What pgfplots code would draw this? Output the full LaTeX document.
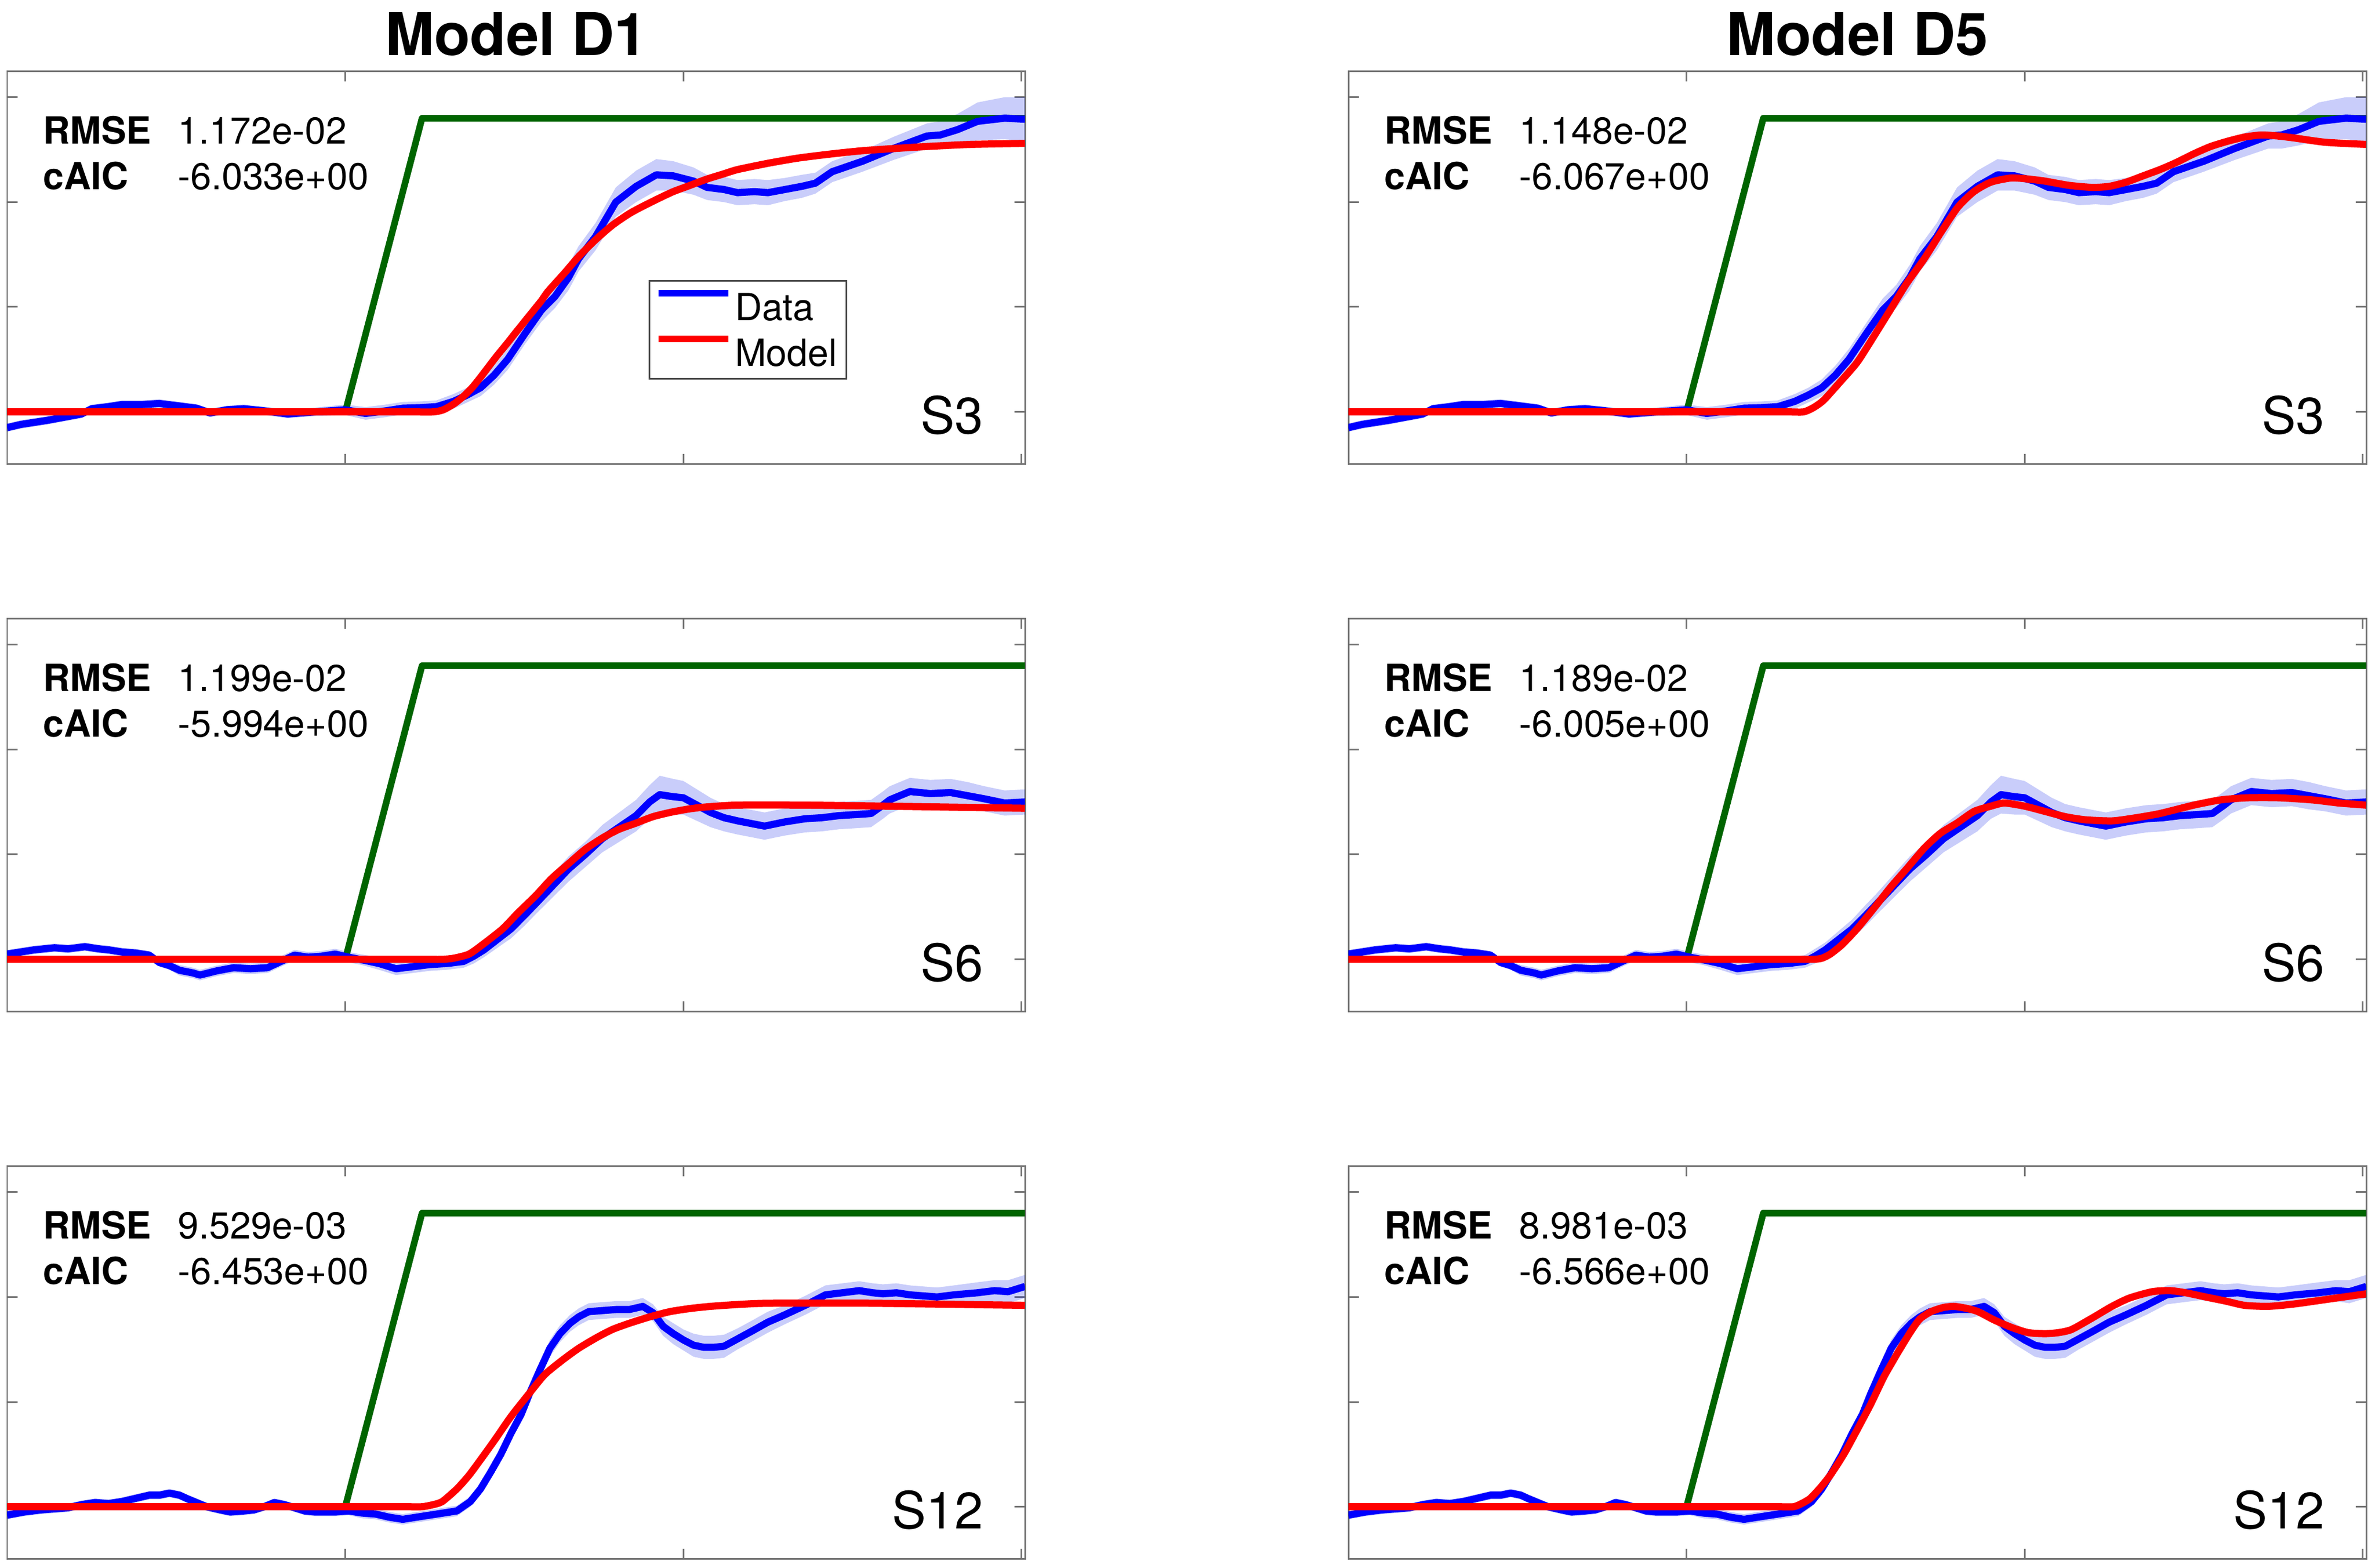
\documentclass[border=0pt]{standalone}
\usepackage{fontspec}
\setmainfont{TeX Gyre Heros}
\usepackage{pgfplots}
\pgfplotsset{compat=1.18}
\usepackage{pgfplotstable}
\usepgfplotslibrary{fillbetween}

\definecolor{stim}{RGB}{0,100,0}
\definecolor{bandc}{RGB}{0,20,230}

% ---------------- data (x, mean, half-width of band) ----------------
\pgfplotstableread{
x y h
0.00 -0.15 0.04
0.04 -0.12 0.04
0.08 -0.10 0.04
0.12 -0.08 0.04
0.17 -0.05 0.04
0.22 -0.02 0.04
0.25 0.03 0.04
0.30 0.05 0.04
0.34 0.07 0.04
0.40 0.07 0.04
0.45 0.08 0.04
0.50 0.06 0.04
0.56 0.035 0.04
0.60 -0.01 0.04
0.65 0.02 0.04
0.70 0.03 0.04
0.76 0.01 0.04
0.83 -0.02 0.04
0.91 0.00 0.04
1.00 0.02 0.05
1.06 -0.015 0.06
1.12 0.01 0.06
1.17 0.035 0.06
1.22 0.04 0.06
1.27 0.05 0.06
1.32 0.10 0.07
1.36 0.16 0.07
1.40 0.23 0.08
1.44 0.35 0.09
1.48 0.50 0.10
1.53 0.74 0.10
1.58 0.97 0.11
1.62 1.10 0.11
1.66 1.28 0.12
1.69 1.46 0.12
1.74 1.67 0.13
1.80 2.00 0.14
1.86 2.15 0.15
1.92 2.26 0.15
1.97 2.25 0.14
2.03 2.20 0.13
2.07 2.14 0.12
2.12 2.12 0.12
2.16 2.09 0.12
2.21 2.10 0.12
2.25 2.09 0.12
2.30 2.12 0.11
2.35 2.15 0.11
2.39 2.18 0.10
2.44 2.29 0.10
2.53 2.39 0.10
2.62 2.51 0.11
2.72 2.63 0.12
2.76 2.64 0.13
2.81 2.69 0.15
2.87 2.77 0.18
2.95 2.80 0.20
3.01 2.79 0.21
}\dataSthree

\pgfplotstableread{
x y h
0.00 0.05 0.04
0.04 0.07 0.04
0.08 0.09 0.04
0.14 0.11 0.04
0.18 0.10 0.04
0.23 0.12 0.04
0.27 0.10 0.04
0.30 0.09 0.04
0.34 0.07 0.04
0.38 0.06 0.04
0.42 0.04 0.04
0.45 -0.03 0.04
0.48 -0.06 0.04
0.51 -0.105 0.05
0.55 -0.13 0.05
0.57 -0.15 0.05
0.62 -0.11 0.05
0.67 -0.08 0.05
0.72 -0.09 0.05
0.77 -0.08 0.05
0.81 -0.02 0.05
0.85 0.04 0.05
0.89 0.02 0.05
0.93 0.03 0.05
0.97 0.05 0.05
1.01 0.02 0.05
1.05 -0.005 0.05
1.10 -0.04 0.06
1.15 -0.09 0.06
1.20 -0.07 0.06
1.25 -0.05 0.06
1.30 -0.04 0.06
1.35 -0.02 0.06
1.38 0.03 0.07
1.41 0.09 0.07
1.45 0.19 0.08
1.49 0.29 0.09
1.53 0.42 0.10
1.56 0.52 0.10
1.61 0.69 0.11
1.66 0.86 0.12
1.71 1.00 0.12
1.76 1.15 0.13
1.81 1.26 0.14
1.86 1.37 0.15
1.90 1.50 0.16
1.93 1.57 0.18
1.97 1.55 0.17
2.00 1.54 0.16
2.04 1.47 0.15
2.08 1.40 0.14
2.12 1.35 0.13
2.16 1.32 0.13
2.24 1.27 0.13
2.30 1.31 0.13
2.36 1.34 0.13
2.41 1.35 0.13
2.46 1.37 0.13
2.51 1.38 0.13
2.555 1.39 0.13
2.59 1.47 0.13
2.61 1.52 0.13
2.67 1.60 0.13
2.73 1.58 0.13
2.79 1.59 0.13
2.84 1.56 0.13
2.89 1.53 0.12
2.95 1.49 0.12
3.01 1.50 0.12
}\dataSsix

\pgfplotstableread{
x y h
0.00 -0.08 0.04
0.05 -0.05 0.04
0.10 -0.03 0.04
0.14 -0.02 0.04
0.18 -0.01 0.04
0.22 0.02 0.04
0.26 0.04 0.04
0.30 0.03 0.04
0.34 0.05 0.04
0.38 0.08 0.04
0.42 0.11 0.04
0.45 0.11 0.04
0.48 0.13 0.04
0.51 0.11 0.04
0.53 0.08 0.04
0.56 0.04 0.04
0.59 0.00 0.04
0.63 -0.03 0.04
0.66 -0.05 0.04
0.70 -0.04 0.04
0.73 -0.03 0.04
0.76 0.00 0.04
0.79 0.04 0.04
0.82 0.02 0.04
0.85 -0.01 0.04
0.88 -0.04 0.04
0.91 -0.05 0.04
0.97 -0.05 0.04
1.01 -0.04 0.04
1.05 -0.06 0.05
1.09 -0.07 0.05
1.13 -0.10 0.05
1.17 -0.12 0.05
1.21 -0.10 0.05
1.25 -0.08 0.05
1.29 -0.06 0.05
1.33 -0.04 0.05
1.37 0.05 0.05
1.40 0.17 0.06
1.43 0.33 0.06
1.46 0.50 0.06
1.49 0.70 0.07
1.52 0.88 0.07
1.545 1.08 0.07
1.575 1.30 0.07
1.605 1.51 0.08
1.635 1.65 0.08
1.665 1.75 0.08
1.69 1.81 0.08
1.72 1.86 0.08
1.76 1.87 0.08
1.80 1.88 0.08
1.84 1.88 0.08
1.88 1.91 0.08
1.91 1.85 0.08
1.94 1.72 0.09
1.97 1.65 0.10
2.00 1.59 0.10
2.03 1.54 0.11
2.06 1.52 0.11
2.09 1.52 0.11
2.12 1.53 0.11
2.16 1.60 0.10
2.20 1.67 0.10
2.25 1.76 0.10
2.30 1.83 0.09
2.36 1.92 0.09
2.42 2.02 0.09
2.47 2.04 0.09
2.52 2.06 0.09
2.56 2.04 0.09
2.59 2.03 0.09
2.63 2.04 0.09
2.67 2.02 0.09
2.71 2.01 0.09
2.75 2.00 0.09
2.80 2.02 0.09
2.87 2.04 0.10
2.92 2.06 0.10
2.96 2.05 0.11
3.01 2.10 0.11
}\dataStwelve

% ---------------- model fits ----------------
\pgfplotstableread{
x y
0 0
1.10 0
1.20 0
1.26 0
1.29 0.02
1.323 0.08
1.35 0.15
1.375 0.23
1.40 0.33
1.426 0.44
1.45 0.54
1.478 0.65
1.50 0.74
1.53 0.86
1.56 0.98
1.58 1.06
1.60 1.15
1.65 1.33
1.69 1.48
1.74 1.64
1.79 1.78
1.84 1.89
1.88 1.96
1.93 2.04
1.97 2.10
2.02 2.16
2.07 2.22
2.12 2.27
2.16 2.31
2.25 2.37
2.34 2.42
2.44 2.46
2.53 2.49
2.62 2.51
2.72 2.53
2.85 2.55
3.01 2.56
}\modAthree

\pgfplotstableread{
x y
0 0
1.20 0
1.30 0
1.346 0
1.375 0.04
1.405 0.11
1.45 0.27
1.504 0.47
1.55 0.70
1.604 0.98
1.65 1.22
1.703 1.46
1.75 1.70
1.802 1.95
1.85 2.10
1.90 2.19
1.96 2.23
2.01 2.22
2.06 2.20
2.13 2.16
2.20 2.14
2.25 2.15
2.30 2.19
2.35 2.25
2.40 2.31
2.45 2.38
2.50 2.46
2.55 2.53
2.60 2.58
2.65 2.62
2.70 2.64
2.75 2.63
2.80 2.61
2.89 2.57
3.01 2.55
}\modBthree

\pgfplotstableread{
x y
0 0
1.15 0
1.24 0
1.287 0
1.32 0.01
1.366 0.05
1.41 0.15
1.465 0.29
1.51 0.44
1.564 0.61
1.61 0.77
1.663 0.92
1.71 1.05
1.762 1.16
1.81 1.24
1.861 1.30
1.91 1.36
1.96 1.40
2.01 1.43
2.059 1.45
2.158 1.47
2.357 1.47
2.60 1.46
3.01 1.44
}\modAsix

\pgfplotstableread{
x y
0 0
1.25 0
1.33 0
1.376 0
1.40 0.01
1.425 0.05
1.46 0.14
1.504 0.29
1.55 0.47
1.604 0.69
1.65 0.86
1.703 1.06
1.75 1.20
1.80 1.30
1.85 1.41
1.90 1.46
1.94 1.49
2.00 1.46
2.06 1.41
2.12 1.36
2.18 1.33
2.26 1.32
2.33 1.35
2.40 1.39
2.50 1.47
2.58 1.52
2.66 1.54
2.75 1.54
2.85 1.52
2.93 1.49
3.01 1.47
}\modBsix

\pgfplotstableread{
x y
0 0
1.10 0
1.18 0
1.227 0
1.26 0.02
1.287 0.05
1.33 0.17
1.366 0.30
1.405 0.47
1.445 0.65
1.49 0.86
1.544 1.08
1.59 1.26
1.643 1.40
1.69 1.51
1.742 1.61
1.79 1.69
1.841 1.75
1.90 1.81
1.96 1.86
2.02 1.89
2.079 1.91
2.17 1.93
2.257 1.94
2.555 1.94
3.01 1.92
}\modAtwelve

\pgfplotstableread{
x y
0 0
1.18 0
1.27 0
1.316 0
1.34 0.03
1.366 0.08
1.395 0.18
1.425 0.30
1.465 0.50
1.504 0.73
1.545 0.98
1.584 1.24
1.625 1.47
1.663 1.67
1.69 1.79
1.723 1.86
1.76 1.90
1.792 1.91
1.83 1.89
1.862 1.86
1.91 1.78
1.961 1.71
2.01 1.66
2.06 1.65
2.10 1.66
2.139 1.69
2.20 1.80
2.258 1.91
2.31 1.99
2.377 2.05
2.43 2.06
2.476 2.04
2.535 2.00
2.595 1.96
2.65 1.92
2.714 1.91
2.76 1.92
2.814 1.94
2.90 1.98
3.01 2.03
}\modBtwelve

\pgfplotsset{
  panel/.style={
    width=185pt, height=71.5pt, scale only axis,
    anchor=north west,
    xmin=0, xmax=3.01, ymin=-0.5, ymax=3.25,
    xtick={0,1,2,3}, ytick={0,1,2,3},
    xticklabels={}, yticklabels={},
    tick align=inside, tick pos=both,
    major tick length=1.9pt,
    axis line style={black!55, line width=0.3pt},
    every tick/.style={black!55, line width=0.3pt},
    clip mode=individual,
    title style={at={(0.5,1)}, anchor=base, yshift=-3.1pt,
      font=\fontsize{10.7}{12}\selectfont\bfseries},
  },
  stimline/.style={color=stim, line width=1.2pt, line join=round, forget plot},
  dataline/.style={color=blue, line width=1.3pt, line join=round},
  modelline/.style={color=red, line width=1.3pt, line join=round, smooth, tension=0.4},
}

\newcommand{\band}[2]{%
  \addplot[draw=none, name path=hi#2, forget plot] table[x=x, y expr=\thisrow{y}+\thisrow{h}] {#1};
  \addplot[draw=none, name path=lo#2, forget plot] table[x=x, y expr=\thisrow{y}-\thisrow{h}] {#1};
  \addplot[fill=bandc, fill opacity=0.21, draw=none, forget plot] fill between[of=hi#2 and lo#2];
}
\newcommand{\stats}[2]{%
  \node[anchor=base west, inner sep=0pt, font=\fontsize{6.8}{8}\selectfont\bfseries] at (rel axis cs:0.0343,0.815) {RMSE};
  \node[anchor=base west, inner sep=0pt, font=\fontsize{6.8}{8}\selectfont] at (rel axis cs:0.167,0.815) {#1};
  \node[anchor=base west, inner sep=0pt, font=\fontsize{6.8}{8}\selectfont\bfseries] at (rel axis cs:0.0343,0.699) {cAIC};
  \node[anchor=base west, inner sep=0pt, font=\fontsize{6.8}{8}\selectfont] at (rel axis cs:0.167,0.699) {#2};
}
\newcommand{\subj}[1]{%
  \node[anchor=base east, inner sep=0pt, font=\fontsize{9.3}{11}\selectfont] at (rel axis cs:0.96,0.077) {#1};
}

\begin{document}
\begin{tikzpicture}

% ---------- row 1 ----------
\begin{axis}[panel, at={(1.3pt,272.0pt)}, title={Model D1},
  legend style={at={(0.630,0.469)}, anchor=north west, draw=black!70, line width=0.3pt,
    fill=white, inner xsep=1.1pt, inner ysep=1.7pt, row sep=2.2pt,
    font=\fontsize{6.8}{8}\selectfont,
    nodes={inner sep=0.6pt, text depth=0pt, text height=4.9pt},
    cells={anchor=west}},
  legend image code/.code={\draw[#1, line width=1.2pt] (0pt,2.45pt) -- (12.7pt,2.45pt);},
  legend cell align=left]
\addplot[stimline] coordinates {(0,0) (1,0) (1.227,2.8) (3.01,2.8)};
\band{\dataSthree}{a}
\addplot[dataline] table[x=x,y=y] {\dataSthree};
\addlegendentry{Data}
\addplot[modelline] table[x=x,y=y] {\modAthree};
\addlegendentry{Model}
\stats{1.172e-02}{-6.033e+00}
\subj{S3}
\end{axis}

\begin{axis}[panel, at={(245.1pt,272.0pt)}, title={Model D5}]
\addplot[stimline] coordinates {(0,0) (1,0) (1.227,2.8) (3.01,2.8)};
\band{\dataSthree}{b}
\addplot[dataline] table[x=x,y=y] {\dataSthree};
\addplot[modelline] table[x=x,y=y] {\modBthree};
\stats{1.148e-02}{-6.067e+00}
\subj{S3}
\end{axis}

% ---------- row 2 ----------
\begin{axis}[panel, at={(1.3pt,172.5pt)}]
\addplot[stimline] coordinates {(0,0) (1,0) (1.227,2.8) (3.01,2.8)};
\band{\dataSsix}{c}
\addplot[dataline] table[x=x,y=y] {\dataSsix};
\addplot[modelline] table[x=x,y=y] {\modAsix};
\stats{1.199e-02}{-5.994e+00}
\subj{S6}
\end{axis}

\begin{axis}[panel, at={(245.1pt,172.5pt)}]
\addplot[stimline] coordinates {(0,0) (1,0) (1.227,2.8) (3.01,2.8)};
\band{\dataSsix}{d}
\addplot[dataline] table[x=x,y=y] {\dataSsix};
\addplot[modelline] table[x=x,y=y] {\modBsix};
\stats{1.189e-02}{-6.005e+00}
\subj{S6}
\end{axis}

% ---------- row 3 ----------
\begin{axis}[panel, at={(1.3pt,73.0pt)}]
\addplot[stimline] coordinates {(0,0) (1,0) (1.227,2.8) (3.01,2.8)};
\band{\dataStwelve}{e}
\addplot[dataline] table[x=x,y=y] {\dataStwelve};
\addplot[modelline] table[x=x,y=y] {\modAtwelve};
\stats{9.529e-03}{-6.453e+00}
\subj{S12}
\end{axis}

\begin{axis}[panel, at={(245.1pt,73.0pt)}]
\addplot[stimline] coordinates {(0,0) (1,0) (1.227,2.8) (3.01,2.8)};
\band{\dataStwelve}{f}
\addplot[dataline] table[x=x,y=y] {\dataStwelve};
\addplot[modelline] table[x=x,y=y] {\modBtwelve};
\stats{8.981e-03}{-6.566e+00}
\subj{S12}
\end{axis}

\pgfresetboundingbox
\path (0,0) rectangle (431.7pt,284.9pt);
\end{tikzpicture}
\end{document}
